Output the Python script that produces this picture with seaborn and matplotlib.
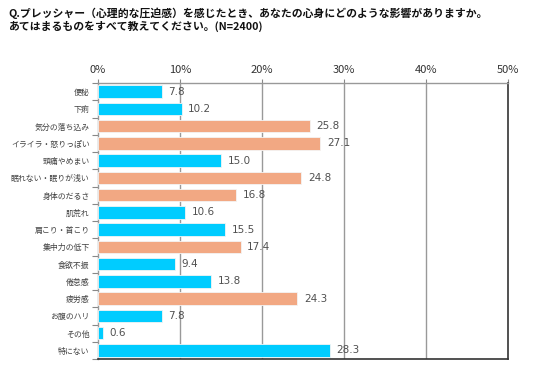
import seaborn as sns
import matplotlib.pyplot as plt
import pandas as pd

categories = ["便秘", "下痢", "気分の落ち込み", "イライラ・怒りっぽい", "頭痛やめまい",
              "眠れない・眠りが浅い", "身体のだるさ", "肌荒れ", "肩こり・首こり", "集中力の低下",
              "食欲不振", "倦怠感", "疲労感", "お腹のハリ", "その他", "特にない"]
values = [7.8, 10.2, 25.8, 27.1, 15.0, 24.8, 16.8, 10.6, 15.5, 17.4,
          9.4, 13.8, 24.3, 7.8, 0.6, 28.3]
groups = ["身体", "身体", "心", "心", "身体", "心", "心", "身体", "身体", "心",
          "身体", "身体", "心", "身体", "身体", "身体"]
xticks = [0, 10, 20, 30, 40, 50]

blue = "#00CCFF"
orange = "#F2A883"

sns.set_style("white")
plt.rcParams['font.family'] = ['Noto Sans CJK JP', 'DejaVu Sans']

df = pd.DataFrame({"item": categories, "pct": values, "group": groups})

fig = plt.figure(figsize=(5.36, 3.66), dpi=100)
ax = fig.add_axes([98 / 536, 1 - 359 / 366, 410 / 536, 276 / 366])

sns.barplot(data=df, x="pct", y="item", hue="group",
            palette={"身体": blue, "心": orange}, dodge=False,
            width=0.72, saturation=1, edgecolor="#f4f4f4", linewidth=0.6,
            legend=False, ax=ax, zorder=3)

for i, v in enumerate(values):
    ax.text(v + 0.8, i, f"{v:.1f}", va="center", ha="left",
            fontsize=7.5, color="#505050", family=['DejaVu Sans'], zorder=4)

ax.set_xlim(0, 50)
ax.set_ylim(len(categories) - 0.5, -0.5)
ax.set_xticks(xticks)
ax.set_xticklabels([f"{t}%" for t in xticks], fontsize=8, color="#333333")
ax.xaxis.tick_top()
ax.tick_params(axis="x", which="both", length=3, color="#888888", pad=3,
               top=True, bottom=False, labeltop=True, labelbottom=False)

# category labels on major ticks, short marks between categories on minor ticks
ax.set_yticks([i - 0.5 for i in range(len(categories) + 1)], minor=True)
ax.tick_params(axis="y", which="major", labelsize=5.7, colors="#404040",
               length=0, pad=6, left=False)
ax.tick_params(axis="y", which="minor", length=4, color="#888888", width=0.8,
               left=True)
ax.set_xlabel("")
ax.set_ylabel("")

for x in [10, 20, 30, 40]:
    ax.axvline(x, color="#999999", lw=1, zorder=1)

for side in ["top", "left"]:
    ax.spines[side].set_color("#999999")
    ax.spines[side].set_linewidth(1)
for side in ["right", "bottom"]:
    ax.spines[side].set_color("#333333")
    ax.spines[side].set_linewidth(1.2)
    ax.spines[side].set_visible(True)

fig.text(8 / 536, 1 - 20 / 366,
         "Q.プレッシャー（心理的な圧迫感）を感じたとき、あなたの心身にどのような影響がありますか。\n"
         "あてはまるものをすべて教えてください。(N=2400)",
         ha="left", va="center", fontsize=7.8, fontweight="bold",
         linespacing=1.2, color="#111111")

fig.savefig("out.png", dpi=100)
